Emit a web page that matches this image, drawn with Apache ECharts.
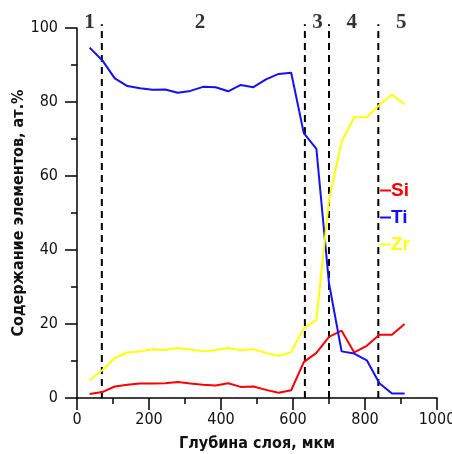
<!DOCTYPE html>
<html>
<head>
<meta charset="utf-8">
<script src="https://cdn.jsdelivr.net/npm/echarts@6/dist/echarts.min.js"></script>
<style>
  html, body { margin: 0; padding: 0; background: #fff; }
  #chart { width: 452px; height: 454px; }
</style>
</head>
<body>
<div id="chart"></div>
<script>
// глубина, мкм
var depth = [35, 70, 105, 140, 175, 210, 245, 280, 315, 350, 385, 420, 455,
  490, 525, 560, 595, 630, 665, 700, 735, 770, 805, 840, 875, 910];
var si = [1.1, 1.6, 3.1, 3.6, 3.9, 3.9, 4.0, 4.3, 3.9, 3.6, 3.4, 4.0, 3.0,
  3.1, 2.2, 1.4, 2.1, 9.7, 12.2, 16.5, 18.2, 12.3, 14.1, 17.1, 17.1, 20.0];
var ti = [94.7, 91.3, 86.4, 84.3, 83.7, 83.3, 83.4, 82.5, 83.0, 84.1, 84.0, 82.9, 84.6,
  84.0, 86.1, 87.6, 87.9, 71.6, 67.3, 31.0, 12.6, 12.0, 10.2, 4.0, 1.2, 1.2];
var zr = [4.8, 7.5, 10.8, 12.3, 12.6, 13.2, 13.0, 13.5, 13.1, 12.6, 13.0, 13.5, 12.9,
  13.2, 12.2, 11.4, 12.4, 18.9, 21.1, 53.5, 69.3, 75.9, 75.9, 79.2, 82.0, 79.3];
// границы зон и номера зон
var borders = [69, 633, 700, 837];
var zoneNames = ["1", "2", "3", "4", "5"];
var zoneX = [35, 342, 668, 763, 901];
var zoneY = 101.5;
var borderTop = 101;

function pairs(ys) {
  return depth.map(function (d, i) { return [d, ys[i]]; });
}

var myChart = echarts.init(document.getElementById("chart"));

var axisFont = "'Liberation Sans Narrow', 'DejaVu Sans Condensed', 'Liberation Sans', sans-serif";

var series = [
  { name: "Si", type: "line", data: pairs(si), symbol: "none", color: "#ff0000",
    lineStyle: { width: 2 } },
  { name: "Ti", type: "line", data: pairs(ti), symbol: "none", color: "#1010ff",
    lineStyle: { width: 2 } },
  { name: "Zr", type: "line", data: pairs(zr), symbol: "none", color: "#ffff00",
    lineStyle: { width: 2 } }
];

borders.forEach(function (b) {
  series.push({
    type: "line",
    data: [[b, 0], [b, borderTop]],
    symbol: "none",
    clip: false,
    silent: true,
    lineStyle: { color: "#000", width: 2, type: [7, 5] },
    z: 1
  });
});

series.push({
  type: "scatter",
  data: zoneX.map(function (x, i) { return { value: [x, zoneY], name: zoneNames[i] }; }),
  symbolSize: 0,
  clip: false,
  silent: true,
  label: {
    show: true,
    position: "inside",
    formatter: "{b}",
    color: "#000",
    fontFamily: "'Liberation Serif', serif",
    fontWeight: "bold",
    fontSize: 21
  }
});

var option = {
  animation: false,
  grid: { left: 77, top: 28, right: 15, bottom: 56, containLabel: false, outerBoundsMode: "none" },
  legend: {
    orient: "vertical",
    left: 375,
    top: 175,
    itemWidth: 11,
    itemHeight: 2,
    itemGap: 6,
    icon: "rect",
    data: [
      { name: "Si", textStyle: { color: "#ff0000" } },
      { name: "Ti", textStyle: { color: "#1010ff" } },
      { name: "Zr", textStyle: { color: "#ffff00" } }
    ],
    textStyle: {
      fontFamily: "'Liberation Sans', sans-serif",
      fontWeight: "bold",
      fontSize: 19,
      lineHeight: 21,
      padding: [0, 0, 0, -5]
    }
  },
  xAxis: {
    type: "value",
    min: 0,
    max: 1000,
    interval: 200,
    name: "Глубина слоя, мкм",
    nameLocation: "middle",
    nameGap: 38,
    nameMoveOverlap: false,
    nameTextStyle: { color: "#111", fontFamily: axisFont, fontWeight: "bold", fontSize: 16 },
    axisLine: { show: true, lineStyle: { color: "#000", width: 1.5 } },
    axisTick: { show: true, length: 12, lineStyle: { color: "#000", width: 1.5 } },
    minorTick: { show: true, splitNumber: 2, length: 6, lineStyle: { color: "#000", width: 1.5 } },
    splitLine: { show: false },
    axisLabel: { color: "#111", fontFamily: axisFont, fontSize: 16, margin: 14,
      formatter: function (v) { return String(v); } }
  },
  yAxis: {
    type: "value",
    min: 0,
    max: 100,
    interval: 20,
    name: "Содержание элементов, ат.%",
    nameLocation: "middle",
    nameGap: 50,
    nameMoveOverlap: false,
    nameTextStyle: { color: "#111", fontFamily: axisFont, fontWeight: "bold", fontSize: 16 },
    axisLine: { show: true, lineStyle: { color: "#000", width: 1.5 } },
    axisTick: { show: true, length: 12, lineStyle: { color: "#000", width: 1.5 } },
    minorTick: { show: true, splitNumber: 2, length: 6, lineStyle: { color: "#000", width: 1.5 } },
    splitLine: { show: false },
    axisLabel: { color: "#111", fontFamily: axisFont, fontSize: 16, margin: 19 }
  },
  series: series
};

myChart.setOption(option);
</script>
</body>
</html>
